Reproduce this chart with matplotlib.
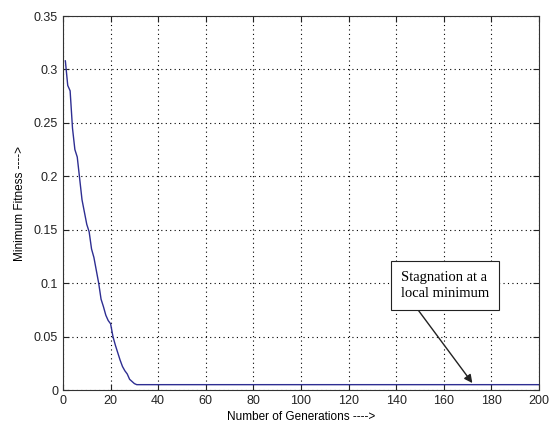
import matplotlib.pyplot as plt

# Minimum fitness per generation
generations = [1, 2, 3, 4, 5, 6, 8, 10, 11, 12, 13, 14, 15, 16, 17, 18, 19, 20,
               21, 22, 23, 24, 25, 26, 27, 28, 29, 30, 31, 35, 200]
min_fitness = [0.308, 0.285, 0.280, 0.245, 0.225, 0.218, 0.178, 0.155, 0.148,
               0.132, 0.124, 0.112, 0.100, 0.085, 0.078, 0.070, 0.065, 0.062,
               0.050, 0.042, 0.035, 0.028, 0.022, 0.018, 0.015, 0.010, 0.008,
               0.006, 0.005, 0.005, 0.005]

x_ticks = list(range(0, 201, 20))
y_ticks = [0, 0.05, 0.1, 0.15, 0.2, 0.25, 0.3, 0.35]

annot_text = "Stagnation at a\nlocal minimum"
annot_xy = (172, 0.0065)
annot_text_xy = (148.6, 0.0767)

plt.rcParams['font.family'] = 'Liberation Sans'

fig = plt.figure(figsize=(5.5, 4.29), dpi=100)
ax = fig.add_axes([0.1145, 0.0909, 0.8655, 0.8718])

ax.plot(generations, min_fitness, color='#2e2e92', linewidth=1.0)

ax.set_xlim(0, 200)
ax.set_ylim(0, 0.35)
ax.set_xticks(x_ticks)
ax.set_yticks(y_ticks)
ax.set_yticklabels(['0', '0.05', '0.1', '0.15', '0.2', '0.25', '0.3', '0.35'])
ax.tick_params(direction='in', top=True, right=True, length=4, labelsize=9,
               colors='#222222')
ax.grid(True, linestyle=(0, (1, 3)), color='black', linewidth=0.8)
for s in ax.spines.values():
    s.set_color('#333333')

ax.set_xlabel("Number of Generations ---->", fontsize=8.5, labelpad=3)
ax.set_ylabel("Minimum Fitness ---->", fontsize=8.5, labelpad=6)

# annotation: text box with arrow pointing at the flat part
ax.annotate("", xy=annot_xy, xytext=annot_text_xy,
            arrowprops=dict(arrowstyle='-|>', color='#222222', lw=1.0,
                            mutation_scale=12, shrinkA=0, shrinkB=0))
ax.text(0.71, 0.28, annot_text, transform=ax.transAxes,
        fontsize=10.5, family='Liberation Serif', va='center', ha='left',
        linespacing=1.35,
        bbox=dict(boxstyle='square,pad=0.68', fc='white', ec='#222222', lw=0.8))

plt.savefig('out.png')
